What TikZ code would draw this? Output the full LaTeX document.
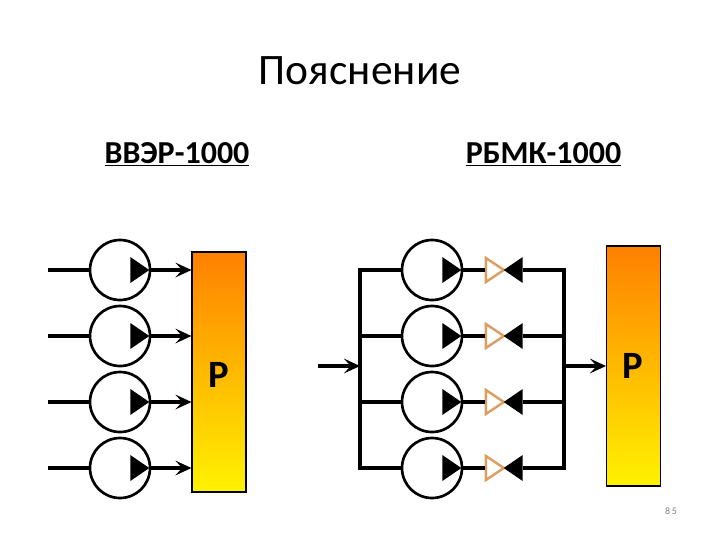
\documentclass[tikz,border=0pt]{standalone}
\usepackage{fontspec}
\setmainfont{Carlito}
\usepackage{tikz}
\usetikzlibrary{arrows.meta,positioning,shapes.geometric}
\definecolor{FigInk}{HTML}{000000}
\definecolor{FigValve}{HTML}{DE9D5E}
\definecolor{FigHot}{HTML}{FF8000}
\definecolor{FigWarm}{HTML}{FFF200}
\definecolor{FigPage}{HTML}{808080}
\newcommand{\FigTitle}{\fontsize{32.6}{36}\selectfont}
\newcommand{\FigHead}{\fontsize{24}{28}\selectfont\bfseries}
\newcommand{\FigMark}{\fontsize{29}{32}\selectfont\bfseries}
\newcommand{\FigPageNo}{\fontsize{7.5}{9}\selectfont}
\tikzset{
  pumpbox/.style={circle, draw=FigInk, line width=2pt, minimum size=60*0.75pt, inner sep=0pt},
  pumptip/.style={
    isosceles triangle,
    isosceles triangle stretches,
    fill=FigInk,
    minimum width=26*0.75pt,
    minimum height=19*0.75pt,
    inner sep=0pt,
    anchor=apex
  },
  backtip/.style={pumptip, shape border rotate=180},
  valvebox/.style={pumptip, fill=white, draw=FigValve, line width=1.8pt, minimum width=24*0.75pt, minimum height=18*0.75pt},
  reactorbox/.style={
    rectangle,
    draw=FigInk,
    line width=0.8pt,
    top color=FigHot,
    bottom color=FigWarm,
    minimum width=54*0.75pt,
    minimum height=240*0.75pt,
    inner sep=0pt
  },
  pipeline/.style={draw=FigInk, line width=3pt},
  feedarrow/.style={
    -{Stealth[length=12pt,width=11pt,inset=5pt]},
    draw=FigInk,
    line width=2.8pt
  }
}
\begin{document}
\begin{tikzpicture}[x=0.75pt,y=-0.75pt]
\path[use as bounding box] (0,0) rectangle (720,540);

\node[font=\FigTitle] (title) at (360,71) {Пояснение};
\node[font=\FigHead] (headvver) at (177,154) {\underline{ВВЭР-1000}};
\node[font=\FigHead] (headrbmk) at (543.5,154) {\underline{РБМК-1000}};
\node[font=\FigPageNo, text=FigPage] (pageno) at (671,511) {8\,5};

% VVER side
\node[reactorbox] (vverreactor) at (219,372) {};
\node[font=\FigMark] (vvermark) at (218.5,375) {Р};
\node[pumpbox] (vvera) at (120,270) {};
\node[pumpbox] (vverb) at (120,336) {};
\node[pumpbox] (vverc) at (120,402) {};
\node[pumpbox] (vverd) at (120,468) {};
\node[pumptip] (vveratip) at (150,270) {};
\node[pumptip] (vverbtip) at (150,336) {};
\node[pumptip] (vverctip) at (150,402) {};
\node[pumptip] (vverdtip) at (150,468) {};
\coordinate (vverain) at (48,270);
\coordinate (vverbin) at (48,336);
\coordinate (vvercin) at (48,402);
\coordinate (vverdin) at (48,468);

\draw[pipeline] (vverain) -- (vvera.west);
\draw[pipeline] (vverbin) -- (vverb.west);
\draw[pipeline] (vvercin) -- (vverc.west);
\draw[pipeline] (vverdin) -- (vverd.west);
\draw[feedarrow] (vvera.east) -- (vvera.east -| vverreactor.west);
\draw[feedarrow] (vverb.east) -- (vverb.east -| vverreactor.west);
\draw[feedarrow] (vverc.east) -- (vverc.east -| vverreactor.west);
\draw[feedarrow] (vverd.east) -- (vverd.east -| vverreactor.west);

% RBMK side
\node[reactorbox] (rbmkreactor) at (633.5,366) {};
\node[font=\FigMark] (rbmkmark) at (632.5,366) {Р};
\node[pumpbox] (rbmka) at (432,270) {};
\node[pumpbox] (rbmkb) at (432,336) {};
\node[pumpbox] (rbmkc) at (432,402) {};
\node[pumpbox] (rbmkd) at (432,468) {};
\node[pumptip] (rbmkatip) at (462,270) {};
\node[pumptip] (rbmkbtip) at (462,336) {};
\node[pumptip] (rbmkctip) at (462,402) {};
\node[pumptip] (rbmkdtip) at (462,468) {};
\node[valvebox] (valvea) at (507,270) {};
\node[valvebox] (valveb) at (507,336) {};
\node[valvebox] (valvec) at (507,402) {};
\node[valvebox] (valved) at (507,468) {};
\node[backtip] (backa) at (503,270) {};
\node[backtip] (backb) at (503,336) {};
\node[backtip] (backc) at (503,402) {};
\node[backtip] (backd) at (503,468) {};
\coordinate (busla) at (360,270);
\coordinate (busld) at (360,468);
\coordinate (busra) at (564,270);
\coordinate (busrd) at (564,468);
\coordinate (feedin) at (318,366);
\coordinate (feedout) at (566,366);

\draw[pipeline] (rbmka.west) -- (busla) -- (busld) -- (rbmkd.west);
\draw[pipeline] (rbmkb.west) -- (rbmkb.west -| busla);
\draw[pipeline] (rbmkc.west) -- (rbmkc.west -| busla);
\draw[pipeline] (backa.east) -- (busra) -- (busrd) -- (backd.east);
\draw[pipeline] (backb.east) -- (backb.east -| busra);
\draw[pipeline] (backc.east) -- (backc.east -| busra);
\draw[pipeline] (rbmka.east) -- (valvea.west);
\draw[pipeline] (rbmkb.east) -- (valveb.west);
\draw[pipeline] (rbmkc.east) -- (valvec.west);
\draw[pipeline] (rbmkd.east) -- (valved.west);
\draw[feedarrow] (feedin) -- (feedin -| busla);
\draw[feedarrow] (feedout) -- (rbmkreactor.west);

\end{tikzpicture}
\end{document}
